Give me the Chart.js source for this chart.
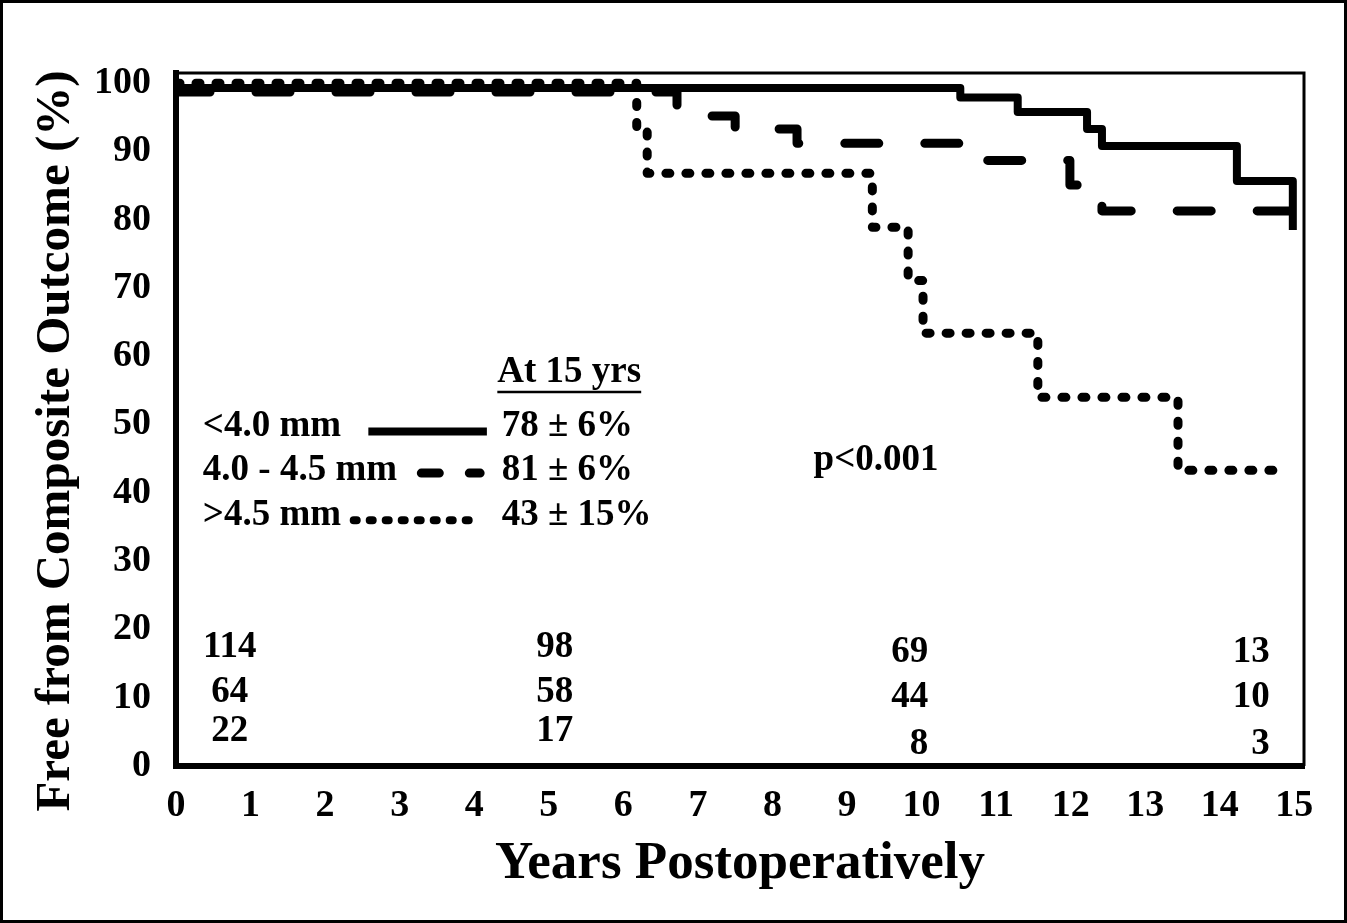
<!DOCTYPE html>
<html>
<head>
<meta charset="utf-8">
<script src="https://cdn.jsdelivr.net/npm/chart.js@4.4.1/dist/chart.umd.min.js"></script>
<style>
  html, body { margin: 0; padding: 0; background: #fff; }
  #wrap { width: 1347px; height: 923px; }
</style>
</head>
<body>
<div id="wrap"><canvas id="kmChart" width="1347" height="923"></canvas></div>
<script>
// Courbes de Kaplan-Meier (années postopératoires, % sans événement)
const smallYears = [0, 10.52, 11.29, 12.22, 12.42, 14.23, 14.98];
const smallFree  = [99.3, 97.9, 95.8, 93.3, 90.8, 85.7, 78.5];

const midYears = [0, 6.72, 7.0, 7.5, 8.33, 10.75, 11.99, 12.42, 15];
const midFree  = [98.7, 96.8, 95.2, 93.3, 91.2, 88.7, 85.1, 81.3, 81.3];

const largeYears = [0, 6.18, 6.32, 9.34, 9.82, 10.02, 11.56, 13.44, 14.84];
const largeFree  = [100, 93.6, 86.8, 78.9, 71.1, 63.4, 54.0, 43.3, 43.3];

// Graduations
const xTicks = [0, 1, 2, 3, 4, 5, 6, 7, 8, 9, 10, 11, 12, 13, 14, 15];
const yTicks = [0, 10, 20, 30, 40, 50, 60, 70, 80, 90, 100];

// Titres des axes
const xTitle = 'Years Postoperatively';
const yTitle = 'Free from Composite Outcome (%)';

// Légende et résultats à 15 ans
const groupLabels = ['<4.0 mm', '4.0 - 4.5 mm', '>4.5 mm'];
const at15Labels = ['78 \u00b1 6%', '81 \u00b1 6%', '43 \u00b1 15%'];
const legendHeader = 'At 15 yrs';
const pValueText = 'p<0.001';

// Patients à risque (une colonne par instant, lignes : <4.0, 4.0-4.5, >4.5)
const riskCol1 = [114, 64, 22];
const riskCol2 = [98, 58, 17];
const riskCol3 = [69, 44, 8];
const riskCol4 = [13, 10, 3];

const FONT_FAMILY = '"Liberation Serif", "Times New Roman", serif';
const TEXT_FONT = 'bold 37px ' + FONT_FAMILY;

function toPoints(xs, ys) {
    return xs.map((v, i) => ({ x: v, y: ys[i] }));
}

// Dessin du cadre, du titre vertical, de la légende et des effectifs
const overlayPlugin = {
    id: 'overlay',
    afterDraw(chart) {
        const { ctx, chartArea: a, scales: { x, y } } = chart;
        const px = v => x.getPixelForValue(v);
        const py = v => y.getPixelForValue(v);

        ctx.save();
        ctx.strokeStyle = '#000';
        ctx.fillStyle = '#000';

        // Cadre haut et droit de la zone du graphique
        ctx.lineWidth = 3;
        ctx.beginPath();
        ctx.moveTo(a.left, a.top);
        ctx.lineTo(a.right, a.top);
        ctx.lineTo(a.right, a.bottom);
        ctx.stroke();

        // Cadre extérieur
        ctx.strokeRect(1.5, 1.5, chart.width - 3, chart.height - 3);

        // Titre de l'axe vertical
        ctx.save();
        ctx.translate(56, 441);
        ctx.rotate(-Math.PI / 2);
        ctx.font = 'bold 49px ' + FONT_FAMILY;
        ctx.textAlign = 'center';
        ctx.textBaseline = 'middle';
        ctx.fillText(yTitle, 0, 0);
        ctx.restore();

        // Légende
        ctx.font = TEXT_FONT;
        ctx.textBaseline = 'middle';
        ctx.textAlign = 'left';

        const headX = px(4.31);
        const headY = py(57.7);
        ctx.fillText(legendHeader, headX, headY);
        const headW = ctx.measureText(legendHeader).width;
        ctx.lineWidth = 2.5;
        ctx.beginPath();
        ctx.moveTo(headX, headY + 20);
        ctx.lineTo(headX + headW, headY + 20);
        ctx.stroke();

        const rowY = [49.8, 43.3, 36.7];
        groupLabels.forEach((label, i) => {
            ctx.fillText(label, px(0.36), py(rowY[i]));
            ctx.fillText(at15Labels[i], px(4.37), py(rowY[i]));
        });

        // Échantillons de traits
        ctx.lineWidth = 8;
        ctx.lineCap = 'butt';
        ctx.setLineDash([]);
        ctx.beginPath();
        ctx.moveTo(px(2.58), py(49.0));
        ctx.lineTo(px(4.17), py(49.0));
        ctx.stroke();

        ctx.lineWidth = 9;
        ctx.lineCap = 'round';
        ctx.setLineDash([18, 30]);
        ctx.beginPath();
        ctx.moveTo(px(3.23) + 4.5, py(42.9));
        ctx.lineTo(px(4.14) - 4.5, py(42.9));
        ctx.stroke();

        ctx.lineWidth = 8;
        ctx.setLineDash([3, 13]);
        ctx.beginPath();
        ctx.moveTo(px(2.33) + 4, py(36.0));
        ctx.lineTo(px(4.01) - 2, py(36.0));
        ctx.stroke();
        ctx.setLineDash([]);

        // Valeur p
        ctx.textAlign = 'center';
        ctx.fillText(pValueText, px(9.39), py(44.8));

        // Patients à risque
        const cols = [
            { counts: riskCol1, x: 0.72, align: 'center', ys: [17.3, 10.8, 5.0] },
            { counts: riskCol2, x: 5.33, align: 'right', ys: [17.3, 10.8, 5.0] },
            { counts: riskCol3, x: 10.09, align: 'right', ys: [16.7, 10.1, 3.2] },
            { counts: riskCol4, x: 14.67, align: 'right', ys: [16.7, 10.1, 3.2] }
        ];
        cols.forEach(col => {
            ctx.textAlign = col.align;
            col.counts.forEach((n, i) => {
                ctx.fillText(String(n), px(col.x), py(col.ys[i]));
            });
        });

        ctx.restore();
    }
};

const tickFont = { family: FONT_FAMILY, size: 38, weight: 'bold' };
const titleFont = { family: FONT_FAMILY, size: 53, weight: 'bold' };

new Chart(document.getElementById('kmChart'), {
    type: 'line',
    data: {
        datasets: [
            {
                label: groupLabels[0],
                data: toPoints(smallYears, smallFree),
                borderColor: '#000',
                borderWidth: 8,
                borderJoinStyle: 'round',
                stepped: 'before',
                pointRadius: 0,
                fill: false
            },
            {
                label: groupLabels[1],
                data: toPoints(midYears, midFree),
                borderColor: '#000',
                borderWidth: 9,
                borderDash: [34, 46],
                borderCapStyle: 'round',
                borderJoinStyle: 'round',
                stepped: 'before',
                pointRadius: 0,
                fill: false
            },
            {
                label: groupLabels[2],
                data: toPoints(largeYears, largeFree),
                borderColor: '#000',
                borderWidth: 9,
                borderDash: [4, 16],
                borderCapStyle: 'round',
                borderJoinStyle: 'round',
                stepped: 'before',
                pointRadius: 0,
                fill: false
            }
        ]
    },
    options: {
        responsive: false,
        devicePixelRatio: 1,
        animation: false,
        layout: { padding: { top: 73, right: 43, left: 0, bottom: 0 } },
        plugins: {
            legend: { display: false },
            tooltip: { enabled: false }
        },
        scales: {
            x: {
                type: 'linear',
                min: 0,
                max: 15.13,
                afterBuildTicks: scale => { scale.ticks = xTicks.map(v => ({ value: v })); },
                afterFit: scale => { scale.height = 923 - 766; },
                grid: { display: false },
                border: { display: true, color: '#000', width: 6 },
                ticks: { color: '#000', font: tickFont, padding: 9, maxRotation: 0, autoSkip: false },
                title: {
                    display: true,
                    text: xTitle,
                    color: '#000',
                    font: titleFont,
                    padding: { top: 0, bottom: 27 }
                }
            },
            y: {
                type: 'linear',
                min: 0,
                max: 101.5,
                afterBuildTicks: scale => { scale.ticks = yTicks.map(v => ({ value: v })); },
                afterFit: scale => { scale.width = 176; },
                grid: { display: false },
                border: { display: true, color: '#000', width: 6 },
                ticks: { color: '#000', font: tickFont, padding: 17, autoSkip: false },
                title: { display: false }
            }
        }
    },
    plugins: [overlayPlugin]
});
</script>
</body>
</html>
